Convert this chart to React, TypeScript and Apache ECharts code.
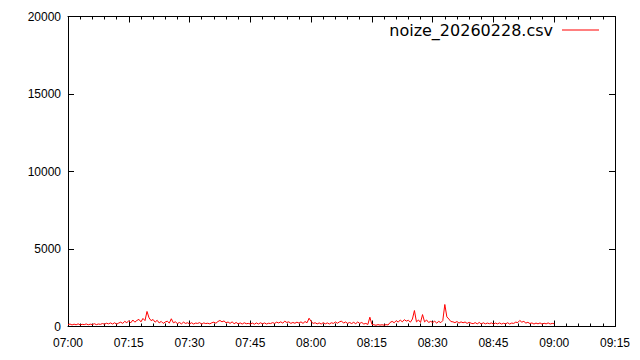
import React, { useEffect, useRef } from "react";
import * as echarts from "echarts";

// minutes after 07:00 for each tick label
const xTickLabels = ["07:00", "07:15", "07:30", "07:45", "08:00", "08:15", "08:30", "08:45", "09:00", "09:15"];
const yTicks = [0, 5000, 10000, 15000, 20000];
const seriesName = "noize_20260228.csv";
// samples every 30 seconds from 07:00 to 09:00
const sampleStepMinutes = 0.5;
const noise = [
  120, 160, 100, 150, 110, 170, 105, 140, 120, 165,
  110, 150, 125, 180, 120, 160, 140, 190, 150, 210,
  170, 230, 160, 240, 150, 220, 280, 200, 330, 250,
  360, 240, 420, 280, 390, 460, 300, 520, 380, 970,
  560, 380, 450, 280, 400, 230, 330, 200, 290, 340,
  220, 500, 240, 300, 190, 260, 170, 280, 200, 240,
  170, 240, 160, 220, 200, 250, 150, 230, 190, 210,
  170, 240, 280, 210, 320, 390, 300, 360, 240, 290,
  200, 300, 180, 260, 170, 230, 160, 240, 180, 200,
  160, 220, 150, 230, 160, 240, 170, 230, 160, 210,
  190, 250, 200, 280, 230, 300, 220, 340, 260, 300,
  200, 260, 210, 280, 220, 300, 200, 320, 240, 535,
  320, 200, 240, 170, 230, 160, 250, 170, 230, 160,
  240, 200, 290, 210, 300, 350, 220, 290, 200, 260,
  190, 270, 180, 290, 200, 260, 160, 200, 130, 600,
  140, 110, 80, 120, 90, 110, 85, 120, 100, 260,
  330, 240, 380, 280, 420, 300, 440, 350, 400, 280,
  480, 1030, 300, 420, 260, 770, 300, 420, 260, 330,
  260, 340, 220, 330, 250, 380, 1420, 620, 480, 320,
  300, 250, 320, 220, 300, 240, 290, 200, 270, 210,
  180, 250, 170, 260, 160, 240, 170, 220, 180, 230,
  160, 220, 170, 230, 160, 210, 170, 240, 160, 220,
  200, 280, 250, 390, 280, 330, 220, 270, 190, 230,
  160, 220, 170, 230, 150, 210, 170, 230, 160, 200,
  180,
];

export default function App() {
  const ref = useRef<HTMLDivElement>(null);
  useEffect(() => {
    if (!ref.current) return;
    const chart = echarts.init(ref.current, null, { renderer: "svg" });
    const data = noise.map((v, i) => [i * sampleStepMinutes, v]);
    const tickFont = { fontFamily: "Liberation Sans", fontSize: 12, color: "#000" };
    const lineStyle = { color: "#000", width: 1 };
    const xCommon = {
      type: "value" as const,
      min: 0,
      max: 135,
      interval: 15,
      splitLine: { show: false },
      axisLine: { show: true, onZero: false, lineStyle },
      axisTick: { show: true, inside: true, length: 6, lineStyle },
      minorTick: { show: true, splitNumber: 5, length: 3, lineStyle },
    };
    const yCommon = {
      type: "value" as const,
      min: 0,
      max: 20000,
      interval: 5000,
      splitLine: { show: false },
      axisLine: { show: true, onZero: false, lineStyle },
      axisTick: { show: true, inside: true, length: 6, lineStyle },
    };
    chart.setOption({
      animation: false,
      backgroundColor: "#fff",
      grid: { left: 68, right: 25, top: 16.5, bottom: 33.5, containLabel: false },
      legend: {
        show: true,
        data: [{ name: seriesName, icon: "rect" }],
        right: 41,
        top: 22,
        padding: 0,
        align: "right",
        itemWidth: 37,
        itemHeight: 1,
        itemStyle: { color: "#ff0000" },
        textStyle: { fontFamily: "DejaVu Sans", fontSize: 16, color: "#000", padding: [0, 4, 0, 0] },
      },
      xAxis: [
        {
          ...xCommon,
          position: "bottom",
          axisLabel: {
            ...tickFont,
            margin: 10,
            formatter: (v: number) => xTickLabels[Math.round(v / 15)] ?? "",
          },
        },
        { ...xCommon, position: "top", axisLabel: { show: false } },
      ],
      yAxis: [
        {
          ...yCommon,
          position: "left",
          axisLabel: { ...tickFont, margin: 7, formatter: (v: number) => (yTicks.includes(v) ? String(v) : "") },
        },
        { ...yCommon, position: "right", axisLabel: { show: false } },
      ],
      series: [
        {
          name: seriesName,
          type: "line",
          xAxisIndex: 0,
          yAxisIndex: 0,
          data,
          symbol: "none",
          lineStyle: { color: "#ff0000", width: 1 },
          itemStyle: { color: "#ff0000" },
        },
      ],
    });
    return () => chart.dispose();
  }, []);
  return <div ref={ref} style={{ width: 640, height: 360, position: "absolute", left: 0, top: 0 }} />;
}
